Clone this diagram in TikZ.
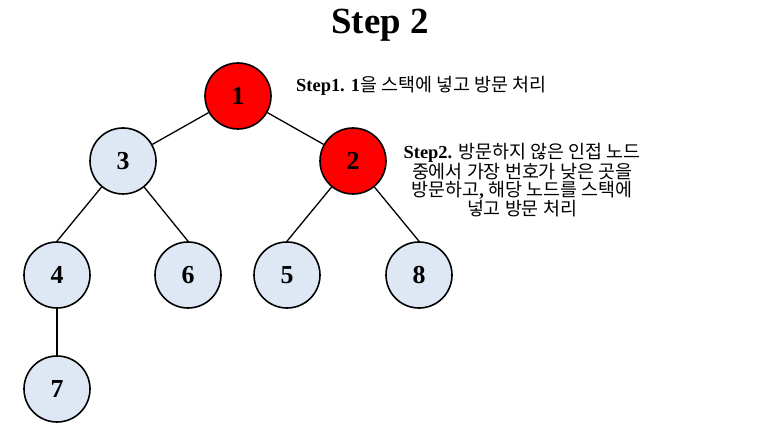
\documentclass[tikz,border=0pt]{standalone}
\usepackage{fontspec}
\setmainfont{Liberation Serif}
\newfontfamily\kr{Noto Sans CJK KR}
\definecolor{nodeblue}{HTML}{DEE8F4}
\begin{document}
\begin{tikzpicture}[x=1bp,y=-1bp,
  tnode/.style={circle,draw=black,line width=1.6bp,minimum size=66bp,inner sep=0pt,
    font=\fontsize{26}{26}\selectfont\bfseries},
  visited/.style={tnode,fill=red},
  unvisited/.style={tnode,fill=nodeblue},
  edge/.style={line width=1.3bp,black},
  note/.style={font=\fontsize{18.5}{18.5}\selectfont,inner sep=0pt}]
\useasboundingbox (0,0) rectangle (773,440);
\node[font=\fontsize{37}{37}\selectfont\bfseries] (title) at (380,25) {Step 2};
\node[visited] (n1) at (238,96) {1};
\node[unvisited] (n3) at (123,161) {3};
\node[visited] (n2) at (353,161) {2};
\node[unvisited] (n4) at (57,275) {4};
\node[unvisited] (n6) at (188,275) {6};
\node[unvisited] (n5) at (287,275) {5};
\node[unvisited] (n8) at (419,275) {8};
\node[unvisited] (n7) at (57,389) {7};
\draw[edge] (n1) -- (n3);
\draw[edge] (n1) -- (n2);
\draw[edge] (n3) -- (n4.north);
\draw[edge] (n3) -- (n6.north);
\draw[edge] (n2) -- (n5.north);
\draw[edge] (n2) -- (n8.north);
\draw[edge] (n4) -- (n7);
\node[note,anchor=west] (s1) at (296,86) {\textbf{Step1. 1}{\kr 을 스택에 넣고 방문 처리}};
\node[note,align=center] (s2) at (522,180) {\textbf{Step2.} {\kr 방문하지 않은 인접 노드}\\{\kr 중에서 가장 번호가 낮은 곳을}\\{\kr 방문하고}\textbf{,} {\kr 해당 노드를 스택에}\\{\kr 넣고 방문 처리}};
\end{tikzpicture}
\end{document}
